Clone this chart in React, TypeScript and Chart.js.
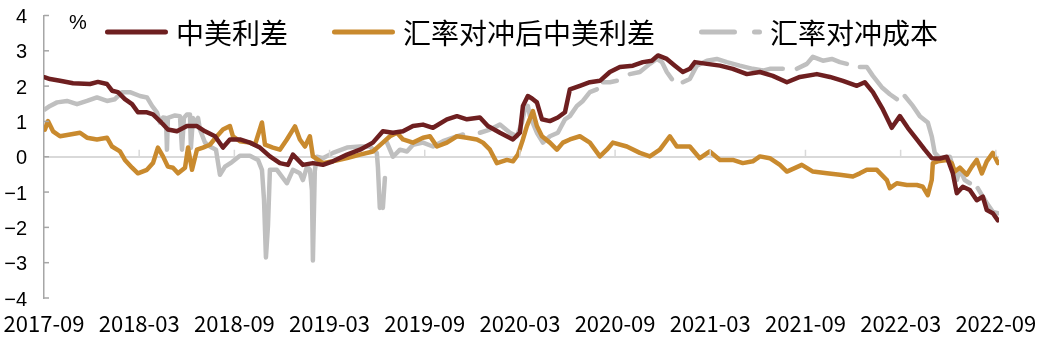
import { useEffect, useRef } from "react";
import { Chart, registerables } from "chart.js";

Chart.register(...registerables);

const xTickLabels = [
  "2017-09", "2018-03", "2018-09", "2019-03", "2019-09", "2020-03",
  "2020-09", "2021-03", "2021-09", "2022-03", "2022-09",
];
const seriesNames = ["中美利差", "汇率对冲后中美利差", "汇率对冲成本"];
const seriesColors = ["#6E1F20", "#C98A2E", "#BFBFBF"];

// [months since 2017-09, value %]; null = gap
const spread: [number, number | null][] = [
  [0.06, 2.25], [0.38, 2.2], [1.01, 2.15], [1.83, 2.08], [2.9, 2.06], [3.4, 2.12], [3.97, 2.06],
  [4.29, 1.87], [4.66, 1.83], [5.1, 1.63], [5.55, 1.49], [5.92, 1.26], [6.49, 1.26], [6.87, 1.2],
  [7.31, 1.01], [7.81, 0.77], [8.38, 0.72], [9.01, 0.87], [9.64, 0.87], [10.15, 0.72], [10.78, 0.58],
  [11.28, 0.26], [11.72, 0.49], [12.35, 0.49], [12.98, 0.4], [13.61, 0.26], [14.24, 0.01], [14.87, -0.18],
  [15.38, -0.23], [15.69, 0.06], [16.32, -0.23], [16.95, -0.18], [17.58, -0.23], [18.21, -0.13],
  [19.1, 0.06], [19.92, 0.2], [20.73, 0.4], [21.36, 0.72], [22.0, 0.68], [22.63, 0.72], [23.26, 0.87],
  [23.89, 0.91], [24.52, 0.82], [25.4, 1.06], [26.03, 1.15], [26.66, 1.06], [27.48, 1.11], [27.98, 0.87],
  [28.74, 0.68], [29.56, 0.49], [30.0, 0.68], [30.19, 1.44], [30.5, 1.72], [30.76, 1.65], [31.07, 1.54],
  [31.39, 1.06], [31.89, 1.01], [32.39, 1.11], [32.84, 1.26], [33.15, 1.91], [33.78, 2.01], [34.41, 2.11],
  [35.04, 2.15], [35.67, 2.4], [36.3, 2.54], [37.12, 2.58], [37.75, 2.68], [38.32, 2.72], [38.7, 2.87],
  [39.26, 2.77], [39.77, 2.58], [40.27, 2.4], [40.71, 2.49], [41.03, 2.68], [41.79, 2.63], [42.61, 2.58],
  [43.42, 2.49], [44.31, 2.34], [45.13, 2.4], [45.94, 2.29], [46.83, 2.11], [47.65, 2.26], [48.72, 2.34],
  [49.54, 2.26], [50.36, 2.15], [51.24, 2.01], [51.74, 2.11], [52.25, 1.83], [52.88, 1.34], [53.44, 0.82],
  [53.95, 1.15], [54.45, 0.82], [55.02, 0.49], [55.52, 0.2], [55.96, -0.04], [56.47, -0.05], [56.91, 0],
  [57.29, -0.47], [57.54, -1.03], [57.92, -0.85], [58.36, -0.94], [58.8, -1.23], [59.18, -1.13],
  [59.43, -1.51], [59.81, -1.6], [60.13, -1.8],
];

const hedged: [number, number | null][] = [
  [0.06, 0.77], [0.25, 1.01], [0.57, 0.72], [1.01, 0.58], [1.64, 0.63], [2.27, 0.68], [2.71, 0.54],
  [3.34, 0.49], [3.97, 0.54], [4.29, 0.29], [4.79, 0.15], [5.1, -0.09], [5.55, -0.31], [5.92, -0.47],
  [6.49, -0.37], [6.87, -0.18], [7.18, 0.26], [7.5, 0.01], [7.81, -0.28], [8.13, -0.31], [8.45, -0.47],
  [8.89, -0.31], [9.08, 0.26], [9.33, -0.37], [9.64, 0.2], [10.02, 0.26], [10.46, 0.34], [10.9, 0.58],
  [11.28, 0.77], [11.72, 0.87], [11.91, 0.58], [12.35, 0.44], [12.98, 0.4], [13.3, 0.34], [13.74, 0.97],
  [13.93, 0.34], [14.43, 0.26], [14.87, 0.2], [15.31, 0.49], [15.82, 0.86], [16.13, 0.49], [16.45, 0.29],
  [16.76, 0.58], [16.95, 0.01], [17.58, -0.18], [18.21, -0.13], [19.1, -0.04], [19.92, 0.06], [20.73, 0.15],
  [21.36, 0.4], [21.81, 0.58], [22.25, 0.68], [22.63, 0.49], [23.26, 0.4], [23.89, 0.54], [24.33, 0.58],
  [24.77, 0.29], [25.4, 0.4], [26.03, 0.58], [26.66, 0.54], [27.29, 0.49], [27.67, 0.4], [28.11, 0.2],
  [28.55, -0.18], [29.18, -0.09], [29.56, -0.13], [29.87, 0.06], [30.19, 0.49], [30.44, 0.87], [30.82, 1.29],
  [31.07, 0.87], [31.39, 0.58], [31.89, 0.4], [32.33, 0.2], [32.71, 0.4], [33.15, 0.49], [33.78, 0.58],
  [34.41, 0.4], [35.04, 0.01], [35.48, 0.2], [35.86, 0.4], [36.74, 0.29], [37.56, 0.11], [38.19, 0.01],
  [38.82, 0.2], [39.45, 0.58], [39.89, 0.29], [40.71, 0.29], [41.34, -0.04], [41.97, 0.15], [42.61, -0.09],
  [43.42, -0.09], [44.05, -0.18], [44.68, -0.13], [45.13, 0.01], [45.75, -0.04], [46.39, -0.23],
  [46.83, -0.42], [47.77, -0.23], [48.47, -0.42], [49.35, -0.47], [50.17, -0.51], [50.99, -0.56],
  [51.43, -0.47], [51.87, -0.37], [52.5, -0.37], [53.13, -0.66], [53.32, -0.89], [53.76, -0.75],
  [54.39, -0.8], [55.02, -0.8], [55.4, -0.85], [55.71, -1.09], [55.96, -0.66], [56.03, -0.18],
  [56.34, -0.13], [56.91, -0.09], [57.22, -0.18], [57.41, -0.42], [57.73, -0.31], [58.17, -0.51],
  [58.49, -0.28], [58.8, -0.09], [59.12, -0.47], [59.43, -0.13], [59.81, 0.11], [60.13, -0.18],
];

const hedgeCost: [number, number | null][] = [
  [0.06, 1.34], [0.38, 1.44], [0.82, 1.54], [1.45, 1.58], [2.08, 1.49], [2.71, 1.58], [3.34, 1.68],
  [3.97, 1.58], [4.47, 1.63], [4.92, 1.83], [5.42, 1.83], [6.05, 1.72], [6.49, 1.68], [6.81, 1.44],
  [7.12, 1.26], [7.31, 0.97], [7.5, 1.11], [7.69, 1.1], [7.75, 0.2], [7.81, 1.1], [8.26, 1.17],
  [8.57, 1.15], [8.7, 0.2], [8.82, 1.1], [9.01, 1.2], [9.2, 1.2], [9.26, 0.25], [9.39, 1.1], [9.58, 0.9],
  [9.71, 1.1], [9.83, 0.77], [10.15, 0.4], [10.46, 0.29], [10.84, 0.2], [11.09, -0.51], [11.41, -0.28],
  [11.85, -0.15], [12.35, 0.03], [12.98, 0.03], [13.49, -0.09], [13.74, -0.37], [13.87, -1.23],
  [13.99, -2.85], [14.12, -1.94], [14.24, -0.37], [14.68, -0.37], [15.31, -0.75], [15.69, -0.37],
  [16.13, -0.47], [16.32, -0.66], [16.58, -0.28], [16.76, -0.37], [16.89, -0.95], [16.95, -2.94],
  [17.07, -0.4], [17.2, 0], [17.58, -0.04], [18.21, 0.11], [19.1, 0.26], [19.92, 0.29], [20.54, 0.29],
  [20.98, 0.11], [21.05, -0.3], [21.17, -1.45], [21.26, null], [21.36, -1.45], [21.49, -0.6], [21.55, null],
  [21.62, 0.4], [22.0, 0.0], [22.44, 0.2], [22.88, 0.15], [23.26, 0.34], [23.89, 0.4], [24.52, 0.29],
  [25.15, 0.44], [25.78, 0.54], [26.41, 0.63], [26.9, null], [27.48, 0.68], [28.11, 0.77], [28.74, 0.91],
  [29.37, 0.68], [29.81, 0.58], [30.13, 0.97], [30.31, 1.34], [30.5, 1.44], [30.63, 1.15], [31.07, 0.68],
  [31.45, 0.4], [31.89, 0.58], [32.39, 0.68], [32.84, 1.06], [33.15, 1.15], [33.59, 1.44], [33.97, 1.58],
  [34.41, 1.83], [34.85, 1.91], [35.0, null], [35.23, 2.11], [35.67, 2.11], [36.11, 2.15], [36.5, null],
  [36.93, 2.34], [37.56, 2.4], [38.19, 2.63], [38.63, 2.77], [38.95, 2.68], [39.26, 2.4], [39.58, 2.2],
  [39.9, null], [40.27, 2.11], [40.71, 2.2], [41.15, 2.58], [41.79, 2.72], [42.41, 2.77], [43.05, 2.68],
  [43.86, 2.58], [44.68, 2.49], [45.31, 2.44], [45.75, 2.49], [46.57, 2.49], [47.0, null], [47.46, 2.49],
  [48.09, 2.63], [48.47, 2.83], [49.1, 2.72], [49.66, 2.77], [50.17, 2.68], [50.61, 2.63], [51.0, null],
  [51.43, 2.54], [51.87, 2.54], [52.25, 2.29], [52.81, 1.97], [53.32, 1.77], [53.76, 1.63], [54.0, null],
  [54.26, 1.72], [54.77, 1.44], [55.21, 1.15], [55.71, 0.97], [55.96, 0.58], [56.15, 0.11], [56.47, -0.04],
  [57.1, 0], [57.29, -0.28], [57.54, -0.66], [57.73, -0.37], [58.04, -0.66], [58.36, -0.75], [58.6, null],
  [58.86, -0.89], [59.18, -1.13], [59.43, -1.31], [59.81, -1.56], [60.13, -1.6],
];

const legendDashes: number[][] = [[], [], [33, 20]];

const toPoints = (arr: [number, number | null][]) => arr.map(([x, y]) => ({ x, y }));

const decorPlugin = {
  id: "decor",
  afterDatasetsDraw(chart: any) {
    const { ctx, chartArea, scales } = chart;
    const xs = scales.x;
    const ys = scales.y;
    ctx.save();
    // inward y ticks
    ctx.strokeStyle = "#A6A6A6";
    ctx.lineWidth = 1.5;
    ys.ticks.forEach((t: any) => {
      const py = ys.getPixelForValue(t.value);
      ctx.beginPath();
      ctx.moveTo(chartArea.left, py);
      ctx.lineTo(chartArea.left + 5, py);
      ctx.stroke();
    });
    // x ticks on the zero line
    const zy = ys.getPixelForValue(0);
    ctx.strokeStyle = "#D9D9D9";
    ctx.lineWidth = 1.5;
    xs.ticks.forEach((t: any) => {
      if (t.value === 0) return;
      const px = xs.getPixelForValue(t.value);
      ctx.beginPath();
      ctx.moveTo(px, zy);
      ctx.lineTo(px, zy - 7);
      ctx.stroke();
    });
    ctx.restore();
  },
  afterDraw(chart: any) {
    const { ctx, chartArea } = chart;
    ctx.save();
    // unit
    ctx.fillStyle = "#000";
    ctx.font = '20px "Liberation Sans"';
    ctx.textAlign = "center";
    ctx.textBaseline = "middle";
    ctx.fillText("%", chartArea.left + 34, chartArea.top + 8);
    // legend
    ctx.font = '28px "Noto Sans CJK SC"';
    ctx.textAlign = "left";
    const lineLen = 63;
    const gap = 8;
    const itemGap = 44;
    const items = chart.data.datasets.map((ds: any, i: number) => ({
      text: ds.label,
      color: ds.borderColor,
      dash: legendDashes[i],
      w: ctx.measureText(ds.label).width,
    }));
    const total =
      items.reduce((s: number, it: any) => s + lineLen + gap + it.w, 0) + itemGap * (items.length - 1);
    let x = (chartArea.left + chartArea.right) / 2 - total / 2;
    const y = chartArea.top + 16.5;
    items.forEach((it: any) => {
      ctx.strokeStyle = it.color;
      ctx.lineWidth = 5;
      ctx.lineCap = "round";
      ctx.setLineDash(it.dash);
      ctx.beginPath();
      ctx.moveTo(x + 2.5, y);
      ctx.lineTo(x + lineLen - 2.5, y);
      ctx.stroke();
      ctx.setLineDash([]);
      ctx.fillStyle = "#000";
      ctx.fillText(it.text, x + lineLen + gap, y + 1);
      x += lineLen + gap + it.w + itemGap;
    });
    ctx.restore();
  },
};

export default function App() {
  const ref = useRef<HTMLCanvasElement | null>(null);
  useEffect(() => {
    if (!ref.current) return;
    const seriesData = [spread, hedged, hedgeCost];
    const chart = new Chart(ref.current, {
      type: "line",
      data: {
        datasets: seriesData.map((d, i) => ({
          label: seriesNames[i],
          data: toPoints(d),
          borderColor: seriesColors[i],
          backgroundColor: seriesColors[i],
          borderWidth: 4.5,
          pointRadius: 0,
          tension: 0,
          spanGaps: false,
          borderJoinStyle: "round",
          borderCapStyle: "round",
        })),
      },
      options: {
        animation: false,
        responsive: false,
        maintainAspectRatio: false,
        layout: { padding: { left: 0, right: 49, top: 15.5, bottom: 0 } },
        plugins: { legend: { display: false }, tooltip: { enabled: false } },
        scales: {
          x: {
            type: "linear",
            min: 0,
            max: 60.2,
            grid: { display: false, drawTicks: false },
            border: { display: false },
            ticks: {
              stepSize: 6,
              includeBounds: false,
              autoSkip: false,
              maxRotation: 0,
              padding: 12,
              color: "#000",
              font: { family: '"Noto Sans CJK SC"', size: 22 },
              callback: (v: any) => {
                const i = Math.round(Number(v) / 6);
                return Math.abs(Number(v) - i * 6) < 1e-6 ? xTickLabels[i] : "";
              },
            },
            afterFit: (s: any) => {
              s.height = 53;
              s.paddingLeft = 0;
              s.paddingRight = 0;
            },
          },
          y: {
            min: -4,
            max: 4,
            grid: {
              drawTicks: false,
              color: (c: any) => (c.tick && c.tick.value === 0 ? "#D9D9D9" : "rgba(0,0,0,0)"),
              lineWidth: 2,
            },
            border: { display: true, color: "#A6A6A6", width: 1.5 },
            ticks: {
              stepSize: 1,
              padding: 17,
              labelOffset: 2,
              color: "#000",
              font: { family: '"Liberation Sans"', size: 20 },
              callback: (v: any) => {
                const n = Number(v);
                return n < 0 ? "\u2212" + Math.abs(n) : String(n);
              },
            },
            afterFit: (s: any) => {
              s.width = 44;
              s.paddingTop = 0;
              s.paddingBottom = 0;
            },
          },
        },
      },
      plugins: [decorPlugin],
    } as any);
    return () => chart.destroy();
  }, []);
  return (
    <div style={{ position: "absolute", left: 0, top: 0, width: 1048, height: 351, background: "#fff" }}>
      <canvas ref={ref} width={1048} height={351} style={{ width: 1048, height: 351 }} />
    </div>
  );
}
